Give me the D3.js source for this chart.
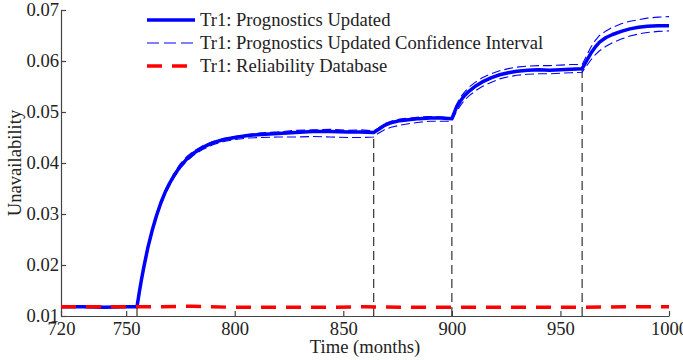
<!DOCTYPE html>
<html>
<head>
<meta charset="utf-8">
<script src="https://cdn.jsdelivr.net/npm/d3@7"></script>
<style>
  html, body { margin: 0; padding: 0; background: #fff; }
  svg { display: block; }
  text { font-family: "Liberation Serif", "Times New Roman", serif; fill: #222; }
</style>
</head>
<body>
<svg id="chart" width="683" height="360"></svg>
<script>
// Time axis (months) shared by the prognostics series
const months = [720, 730, 740, 750, 755, 756, 757, 758, 760, 762, 764, 766, 768, 770, 772, 775, 778, 781, 785, 790, 795, 800,
  806, 812, 820, 828, 836, 844, 852, 858, 864,
  866, 869, 872, 876, 880, 885, 890, 895, 900,
  902, 904, 906, 908, 911, 914, 918, 922, 926, 930, 935, 940, 945, 950, 955, 960,
  962, 964, 966, 968, 971, 974, 978, 982, 986, 990, 995, 1000];

// Tr1: Prognostics Updated
const prognostics = [0.0118, 0.0118, 0.0117, 0.0118, 0.0118, 0.0145, 0.0170, 0.0193, 0.0234, 0.0268, 0.0297, 0.0322, 0.0343, 0.0360, 0.0375, 0.0394, 0.0408, 0.0419, 0.0430, 0.0440, 0.0446, 0.0450,
  0.0454, 0.0456, 0.0458, 0.0460, 0.0462, 0.0462, 0.0461, 0.0461, 0.0460,
  0.0465, 0.0474, 0.0479, 0.0483, 0.0485, 0.0487, 0.0488, 0.0488, 0.0487,
  0.0508, 0.0522, 0.0533, 0.0541, 0.0551, 0.0559, 0.0567, 0.0573, 0.0577, 0.0580, 0.0582, 0.0583, 0.0582, 0.0583, 0.0584, 0.0585,
  0.0600, 0.0615, 0.0627, 0.0637, 0.0646, 0.0652, 0.0658, 0.0663, 0.0666, 0.0668, 0.0669, 0.0669];

// Confidence interval bounds
const ciUpper = [0.0118, 0.0118, 0.0117, 0.0118, 0.0118, 0.0147, 0.0173, 0.0196, 0.0237, 0.0271, 0.0300, 0.0325, 0.0346, 0.0363, 0.0379, 0.0399, 0.0413, 0.0423, 0.0433, 0.0442, 0.0448, 0.0452,
  0.0456, 0.0459, 0.0461, 0.0464, 0.0465, 0.0466, 0.0464, 0.0465, 0.0463,
  0.0468, 0.0477, 0.0482, 0.0486, 0.0488, 0.0490, 0.0491, 0.0490, 0.0489,
  0.0514, 0.0529, 0.0540, 0.0549, 0.0559, 0.0567, 0.0575, 0.0581, 0.0585, 0.0588, 0.0590, 0.0591, 0.0591, 0.0592, 0.0593, 0.0593,
  0.0610, 0.0627, 0.0640, 0.0650, 0.0659, 0.0666, 0.0673, 0.0678, 0.0681, 0.0684, 0.0686, 0.0687];

const ciLower = [0.0118, 0.0118, 0.0117, 0.0118, 0.0118, 0.0143, 0.0167, 0.0190, 0.0230, 0.0264, 0.0293, 0.0318, 0.0339, 0.0356, 0.0371, 0.0390, 0.0404, 0.0415, 0.0426, 0.0436, 0.0442, 0.0446,
  0.0449, 0.0450, 0.0451, 0.0451, 0.0452, 0.0451, 0.0450, 0.0450, 0.0451,
  0.0458, 0.0465, 0.0470, 0.0474, 0.0477, 0.0480, 0.0482, 0.0482, 0.0482,
  0.0500, 0.0513, 0.0524, 0.0532, 0.0542, 0.0550, 0.0558, 0.0565, 0.0569, 0.0572, 0.0574, 0.0575, 0.0575, 0.0576, 0.0577, 0.0578,
  0.0590, 0.0602, 0.0612, 0.0620, 0.0629, 0.0636, 0.0643, 0.0649, 0.0653, 0.0656, 0.0658, 0.0659];

// Tr1: Reliability Database
const dbMonths = [720, 740, 760, 780, 800, 820, 840, 860, 880, 900, 920, 940, 960, 980, 1000];
const dbValues = [0.0118, 0.0118, 0.0118, 0.0119, 0.0117, 0.0117, 0.0117, 0.0118, 0.0117, 0.0117, 0.0117, 0.0117, 0.0117, 0.0118, 0.0118];

// Months at which the prognostics were updated
const updateMonths = [755, 864, 900, 960];

const xTicks = [720, 750, 800, 850, 900, 950, 1000];
const yTicks = [0.01, 0.02, 0.03, 0.04, 0.05, 0.06, 0.07];

const legendLabels = [
  "Tr1: Prognostics Updated",
  "Tr1: Prognostics Updated Confidence Interval",
  "Tr1: Reliability Database"
];

const svg = d3.select("#chart");
const margin = { left: 61, right: 14, top: 10, bottom: 44 };
const W = 683, H = 360;
const FONT = "18.6px";

const x = d3.scaleLinear().domain([720, 1000]).range([margin.left, W - margin.right]);
const y = d3.scaleLinear().domain([0.01, 0.07]).range([H - margin.bottom, margin.top]);

const BLUE = "#0000ff";
const RED = "#ff0000";

// Axes with inward ticks
const xAxis = svg.append("g")
  .attr("transform", `translate(0,${y(0.01)})`)
  .call(d3.axisBottom(x).tickValues(xTicks).tickFormat(d3.format("d")).tickSizeInner(-5).tickSizeOuter(0).tickPadding(6));
const yAxis = svg.append("g")
  .attr("transform", `translate(${x(720)},0)`)
  .call(d3.axisLeft(y).tickValues(yTicks).tickFormat(d3.format(".2f")).tickSizeInner(-5).tickSizeOuter(0).tickPadding(2));

[xAxis, yAxis].forEach(g => {
  g.selectAll("path, line").attr("stroke", "#444").attr("stroke-width", 1.2);
  g.selectAll("text").style("font-size", FONT).style("font-family", "'Liberation Serif', serif").attr("fill", "#222");
});

// Update markers: dashed verticals from the axis up to the curve
const valueAt = m => prognostics[months.indexOf(m)];
svg.append("g").selectAll("line").data(updateMonths).join("line")
  .attr("x1", d => x(d)).attr("x2", d => x(d))
  .attr("y1", y(0.01)).attr("y2", d => y(valueAt(d)))
  .attr("stroke", "#333").attr("stroke-width", 1.2).attr("stroke-dasharray", "9,5");

const line = d3.line().x(d => x(d[0])).y(d => y(d[1]));

svg.append("path")
  .datum(months.map((m, i) => [m, prognostics[i]]))
  .attr("d", line).attr("fill", "none").attr("stroke", BLUE).attr("stroke-width", 3.5)
  .attr("stroke-linejoin", "round");

[ciUpper, ciLower].forEach(arr => {
  svg.append("path")
    .datum(months.map((m, i) => [m, arr[i]]))
    .attr("d", line).attr("fill", "none").attr("stroke", BLUE).attr("stroke-width", 1.1)
    .attr("stroke-dasharray", "9,4");
});

svg.append("path")
  .datum(dbMonths.map((m, i) => [m, dbValues[i]]))
  .attr("d", line).attr("fill", "none").attr("stroke", RED).attr("stroke-width", 3.5)
  .attr("stroke-dasharray", "15,10");

// Axis titles
svg.append("text")
  .attr("x", (x(720) + x(1000)) / 2).attr("y", 353)
  .attr("text-anchor", "middle").style("font-size", FONT)
  .text("Time (months)");
svg.append("text")
  .attr("transform", `translate(21,${(y(0.01) + y(0.07)) / 2}) rotate(-90)`)
  .attr("text-anchor", "middle").style("font-size", FONT)
  .text("Unavailability");

// Legend
const legendStyles = [
  { stroke: BLUE, width: 3.5, dash: null, len: 48 },
  { stroke: BLUE, width: 1.1, dash: "12,5", len: 48 },
  { stroke: RED, width: 3.5, dash: "15,10", len: 41 }
];
const legend = svg.append("g");
legendLabels.forEach((label, i) => {
  const ly = 20 + i * 23;
  const s = legendStyles[i];
  legend.append("line")
    .attr("x1", 147).attr("x2", 147 + s.len).attr("y1", ly).attr("y2", ly)
    .attr("stroke", s.stroke).attr("stroke-width", s.width)
    .attr("stroke-dasharray", s.dash);
  legend.append("text")
    .attr("x", 200).attr("y", ly + 6)
    .style("font-size", FONT)
    .text(label);
});
</script>
</body>
</html>
